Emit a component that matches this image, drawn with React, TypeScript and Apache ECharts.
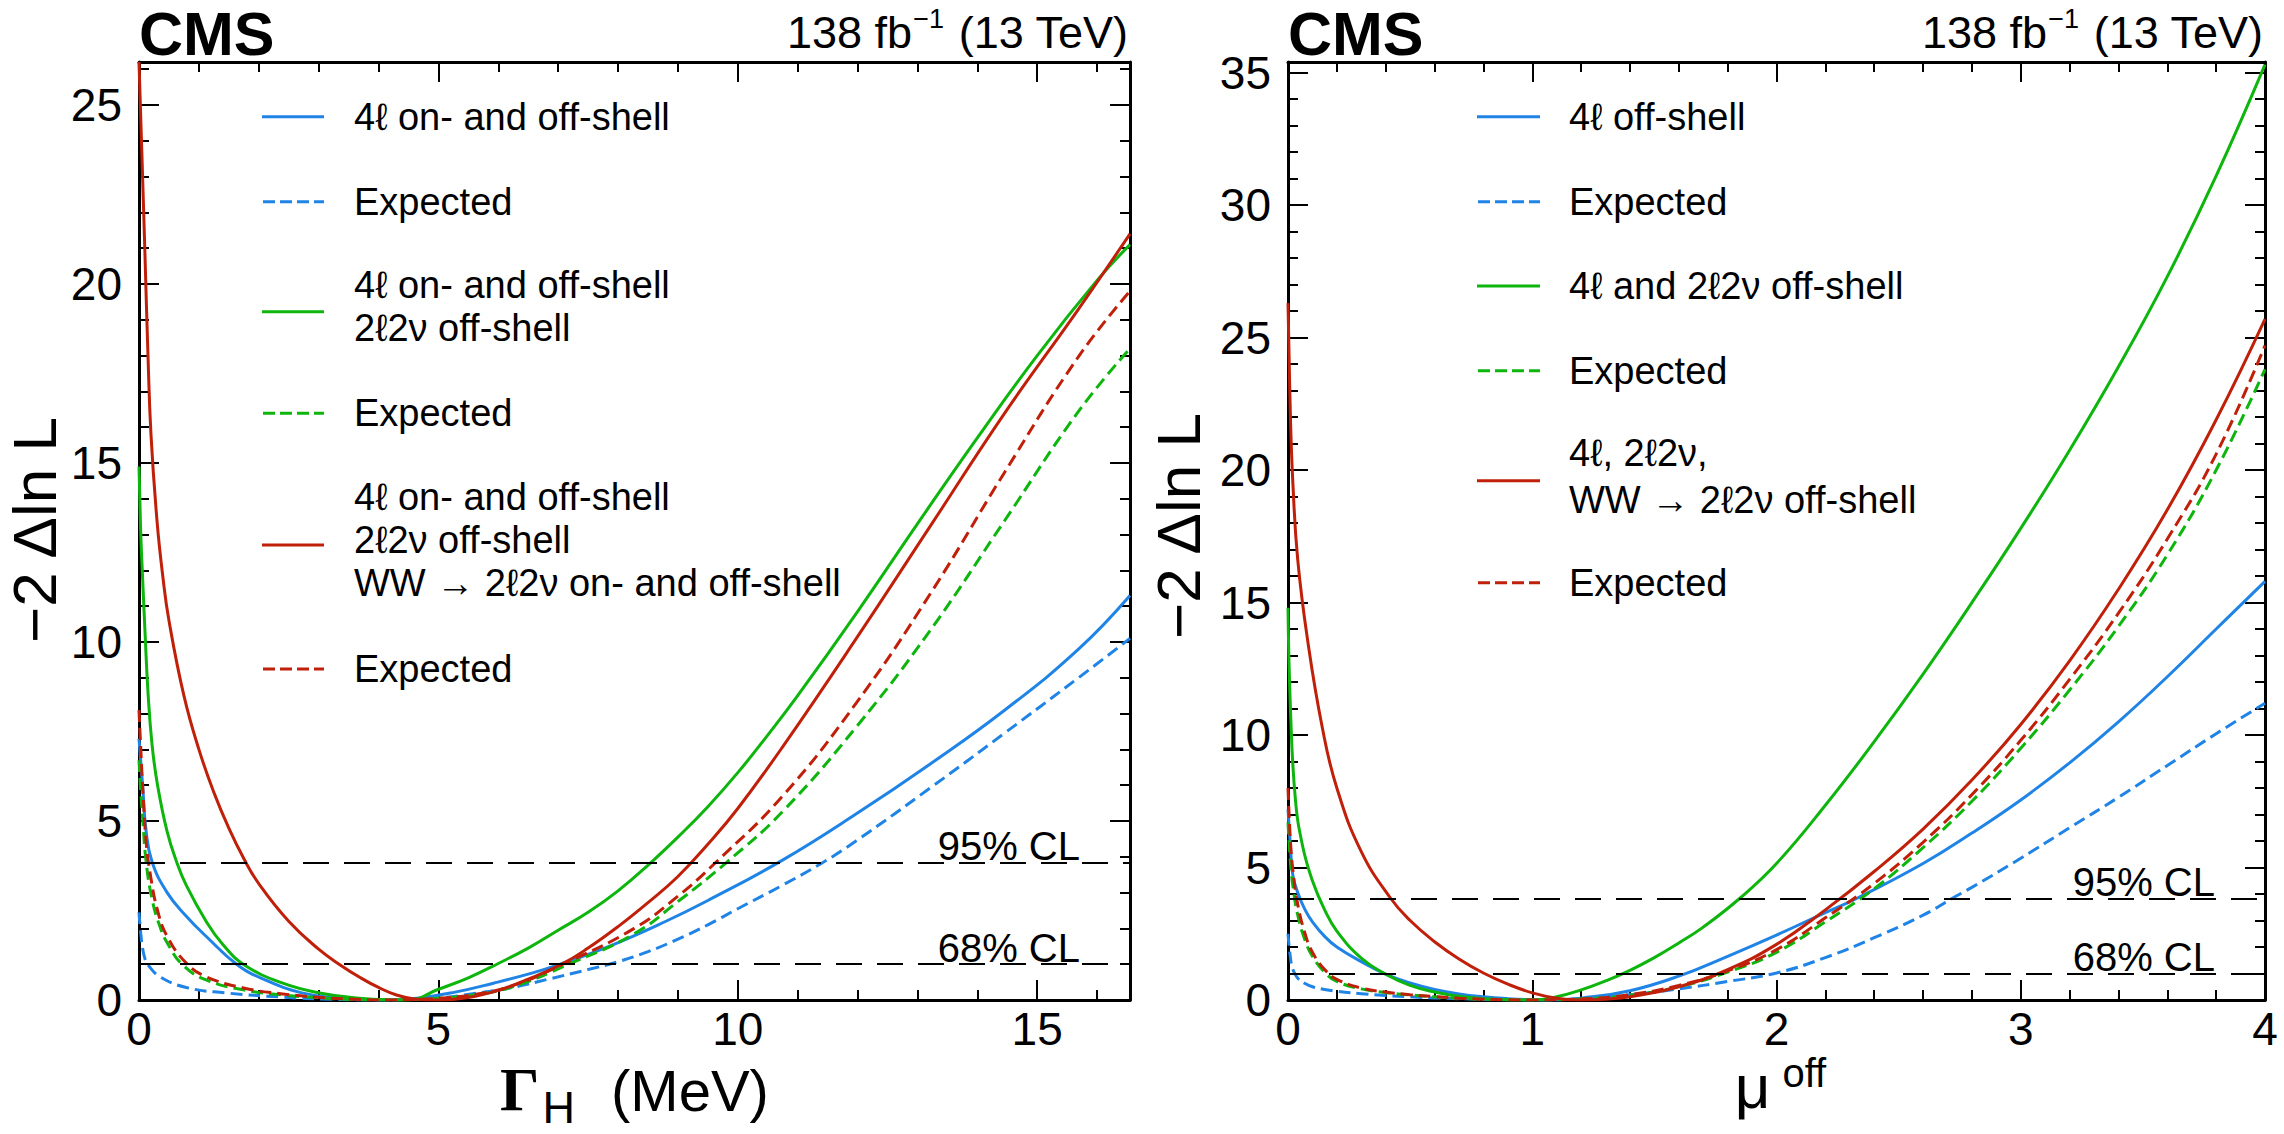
import { useEffect, useRef } from 'react';
import * as echarts from 'echarts';

const W = 2284;
const H = 1134;

const SANS = '"Liberation Sans", Arial, Helvetica, sans-serif';
const SERIF = '"Liberation Serif", "Times New Roman", serif';

const BLUE = '#1f84e6';
const GREEN = '#0db50d';
const RED = '#c0200a';

// ---------- axes ----------
const GAMMA_MIN = 0;
const GAMMA_MAX = 16.55;
const GAMMA_MAJOR = 5;
const GAMMA_MINOR = 1;
const MU_MIN = 0;
const MU_MAX = 4;
const MU_MAJOR = 1;
const MU_MINOR = 0.2;
const NLL_MIN = 0;
const NLL_LEFT_MAX = 26.2;
const NLL_RIGHT_MAX = 35.4;
const NLL_MAJOR = 5;
const NLL_MINOR = 1;

const CL_VALUES = [3.84, 1.0];
const CL_LABELS = ['95% CL', '68% CL'];

// ---------- texts ----------
const TITLE_CMS = 'CMS';
const LUMI_MAIN = '138 fb';
const LUMI_SUP = '−1';
const LUMI_TAIL = '(13 TeV)';
const Y_TITLE = '−2 Δln L';
const X_TITLE_LEFT = ['Γ', 'H', '(MeV)'];
const X_TITLE_RIGHT = ['μ', 'off'];

const LEFT_LEGEND_LABELS = [
  ['4ℓ on- and off-shell'],
  ['Expected'],
  ['4ℓ on- and off-shell', '2ℓ2ν off-shell'],
  ['Expected'],
  ['4ℓ on- and off-shell', '2ℓ2ν off-shell', 'WW → 2ℓ2ν on- and off-shell'],
  ['Expected'],
];
const RIGHT_LEGEND_LABELS = [
  ['4ℓ off-shell'],
  ['Expected'],
  ['4ℓ and 2ℓ2ν off-shell'],
  ['Expected'],
  ['4ℓ, 2ℓ2ν,', 'WW → 2ℓ2ν off-shell'],
  ['Expected'],
];

// ---------- data: left panel, x = Gamma_H (MeV), y = -2 Delta lnL ----------
const GAMMA_4L_OBS = [[0,7.3],[0.06,6.0],[0.12,4.7],[0.22,3.85],[0.47,3.0],[0.79,2.34],[1.12,1.78],[1.63,1.0],[2.08,0.58],[2.72,0.2],[3.36,0.05],[4.0,0.0],[4.64,0.05],[5.28,0.22],[5.92,0.47],[6.56,0.75],[7.0,0.98],[7.85,1.5],[8.8,2.2],[9.5,2.78],[10.74,3.9],[11.98,5.2],[13.22,6.6],[14.46,8.1],[15.69,9.8],[16.55,11.3]];
const GAMMA_4L_EXP = [[0,2.45],[0.03,1.85],[0.06,1.45],[0.1,1.15],[0.15,0.98],[0.35,0.65],[0.79,0.35],[1.44,0.2],[2.4,0.08],[3.2,0.02],[4.1,0.0],[5.0,0.06],[5.6,0.18],[6.24,0.35],[6.88,0.6],[7.5,0.85],[8.0,1.07],[8.5,1.35],[9.0,1.7],[9.5,2.1],[10.0,2.55],[10.74,3.2],[11.42,3.84],[11.98,4.45],[13.22,5.93],[14.46,7.46],[15.69,9.0],[16.55,10.1]];
const GAMMA_4L2L2V_OBS = [[0,14.9],[0.03,13.0],[0.06,11.8],[0.1,10.3],[0.15,8.6],[0.22,7.1],[0.31,6.0],[0.47,4.7],[0.63,3.85],[0.79,3.2],[1.12,2.2],[1.4,1.55],[1.76,0.98],[2.4,0.47],[3.04,0.19],[3.68,0.05],[4.2,0.005],[4.5,0.0],[5.0,0.3],[5.5,0.62],[6.0,1.02],[6.5,1.45],[7.0,1.95],[7.5,2.45],[8.0,3.05],[8.55,3.84],[9.0,4.55],[9.5,5.4],[10.0,6.35],[10.5,7.4],[11.0,8.5],[12.0,10.85],[13.0,13.3],[14.0,15.7],[15.0,18.0],[16.0,20.1],[16.55,21.1]];
const GAMMA_4L2L2V_EXP = [[0,6.7],[0.03,5.8],[0.06,5.1],[0.12,3.85],[0.22,2.8],[0.35,2.05],[0.47,1.6],[0.73,0.98],[1.12,0.56],[1.76,0.28],[2.4,0.14],[3.04,0.06],[3.6,0.015],[4.1,0.0],[4.6,0.015],[5.0,0.05],[5.6,0.14],[6.24,0.37],[7.15,0.98],[8.27,1.85],[9.0,2.75],[9.81,3.84],[10.74,5.25],[11.98,7.63],[13.22,10.34],[14.46,13.4],[15.69,16.44],[16.55,18.2]];
const GAMMA_ALL_OBS = [[0,26.2],[0.03,24.6],[0.06,23.0],[0.1,20.8],[0.15,18.0],[0.2,15.8],[0.3,13.4],[0.4,11.8],[0.5,10.6],[0.75,8.5],[1.0,7.0],[1.25,5.8],[1.5,4.8],[1.75,3.95],[2.0,3.25],[2.5,2.2],[3.0,1.42],[3.36,0.98],[3.7,0.62],[4.0,0.35],[4.3,0.14],[4.6,0.03],[5.0,0.0],[5.5,0.07],[6.0,0.27],[6.5,0.58],[7.06,1.0],[7.5,1.45],[8.0,2.05],[8.5,2.72],[9.0,3.45],[9.5,4.35],[10.0,5.35],[10.74,7.05],[11.98,10.1],[13.22,13.25],[14.46,16.4],[15.69,19.3],[16.55,21.4]];
const GAMMA_ALL_EXP = [[0,8.1],[0.03,7.0],[0.06,6.0],[0.12,4.4],[0.19,3.5],[0.31,2.5],[0.47,1.78],[0.79,1.03],[1.12,0.65],[1.76,0.33],[2.4,0.17],[3.04,0.07],[3.6,0.02],[4.1,0.0],[4.6,0.015],[5.0,0.05],[5.6,0.15],[6.24,0.4],[7.08,1.0],[8.27,2.0],[9.0,2.9],[9.63,3.84],[10.74,5.68],[11.98,8.3],[13.22,11.36],[14.46,14.75],[15.69,17.97],[16.55,19.8]];

// ---------- data: right panel, x = mu_off, y = -2 Delta lnL ----------
const MU_4L_OBS = [[0,7.2],[0.01,5.8],[0.02,4.7],[0.04,4.05],[0.07,3.4],[0.1,2.95],[0.15,2.4],[0.2,2.0],[0.3,1.45],[0.4,0.98],[0.5,0.64],[0.6,0.4],[0.7,0.23],[0.8,0.12],[0.9,0.05],[1.0,0.01],[1.05,0.0],[1.1,0.01],[1.2,0.07],[1.4,0.35],[1.6,0.9],[1.8,1.65],[2.0,2.45],[2.2,3.3],[2.33,3.84],[2.6,5.15],[2.8,6.3],[3.0,7.55],[3.2,8.95],[3.4,10.5],[3.6,12.2],[3.8,14.0],[4.0,15.8]];
const MU_4L_EXP = [[0,2.5],[0.01,1.6],[0.02,1.15],[0.04,0.82],[0.07,0.62],[0.1,0.5],[0.15,0.4],[0.2,0.33],[0.3,0.24],[0.4,0.17],[0.5,0.12],[0.6,0.08],[0.7,0.05],[0.8,0.02],[0.9,0.005],[1.0,0.0],[1.2,0.05],[1.4,0.2],[1.6,0.42],[1.8,0.7],[2.0,1.02],[2.2,1.6],[2.4,2.35],[2.6,3.2],[2.72,3.84],[2.8,4.25],[3.0,5.35],[3.2,6.5],[3.4,7.65],[3.6,8.85],[3.8,10.05],[4.0,11.2]];
const MU_4L2L2V_OBS = [[0,14.8],[0.01,11.0],[0.03,7.6],[0.06,5.8],[0.1,4.5],[0.15,3.4],[0.2,2.6],[0.3,1.58],[0.4,0.97],[0.5,0.55],[0.6,0.3],[0.7,0.14],[0.8,0.05],[0.9,0.01],[1.0,0.0],[1.1,0.12],[1.2,0.38],[1.3,0.72],[1.4,1.12],[1.5,1.6],[1.6,2.15],[1.7,2.75],[1.85,3.84],[2.0,5.15],[2.2,7.35],[2.4,9.75],[2.6,12.3],[2.8,15.0],[3.0,17.8],[3.2,20.75],[3.4,23.9],[3.6,27.3],[3.8,31.1],[4.0,35.3]];
const MU_4L2L2V_EXP = [[0,6.7],[0.01,5.2],[0.02,4.3],[0.04,3.2],[0.07,2.25],[0.1,1.65],[0.15,1.05],[0.2,0.7],[0.3,0.42],[0.4,0.28],[0.5,0.19],[0.6,0.12],[0.7,0.065],[0.8,0.028],[0.9,0.007],[1.0,0.0],[1.2,0.04],[1.4,0.18],[1.6,0.5],[1.8,1.05],[2.0,1.8],[2.2,2.95],[2.4,4.2],[2.6,5.75],[2.8,7.5],[3.0,9.5],[3.2,11.7],[3.4,14.1],[3.6,16.8],[3.8,20.0],[4.0,23.8]];
const MU_ALL_OBS = [[0,26.3],[0.01,22.0],[0.02,19.5],[0.04,16.6],[0.08,13.6],[0.14,10.3],[0.2,8.0],[0.3,5.6],[0.42,3.84],[0.5,3.0],[0.6,2.2],[0.7,1.55],[0.8,1.02],[0.9,0.6],[1.0,0.27],[1.1,0.07],[1.2,0.0],[1.3,0.03],[1.4,0.12],[1.6,0.5],[1.8,1.15],[2.0,2.1],[2.2,3.4],[2.4,4.85],[2.6,6.45],[2.8,8.3],[3.0,10.4],[3.2,12.8],[3.4,15.5],[3.6,18.5],[3.8,21.9],[4.0,25.7]];
const MU_ALL_EXP = [[0,8.0],[0.01,6.0],[0.02,4.9],[0.04,3.6],[0.07,2.5],[0.1,1.8],[0.15,1.15],[0.2,0.78],[0.3,0.45],[0.4,0.3],[0.5,0.2],[0.6,0.13],[0.7,0.07],[0.8,0.03],[0.9,0.008],[1.0,0.0],[1.2,0.04],[1.4,0.2],[1.6,0.55],[1.8,1.1],[2.0,1.9],[2.2,3.1],[2.4,4.4],[2.6,5.95],[2.8,7.75],[3.0,9.8],[3.2,12.1],[3.4,14.6],[3.6,17.4],[3.8,20.6],[4.0,24.7]];

const LEFT_SERIES = [GAMMA_4L_OBS, GAMMA_4L_EXP, GAMMA_4L2L2V_OBS, GAMMA_4L2L2V_EXP, GAMMA_ALL_OBS, GAMMA_ALL_EXP];
const RIGHT_SERIES = [MU_4L_OBS, MU_4L_EXP, MU_4L2L2V_OBS, MU_4L2L2V_EXP, MU_ALL_OBS, MU_ALL_EXP];
const SERIES_COLORS = [BLUE, BLUE, GREEN, GREEN, RED, RED];
const SERIES_DASHED = [false, true, false, true, false, true];

// ---------- layout ----------
const GRIDS = [
  { left: 139, top: 62, width: 991, height: 938 },
  { left: 1288, top: 62, width: 977, height: 938 },
];
const LEGEND_LAYOUT = [
  {
    lineX: [262, 324], textX: 354,
    rows: [116.7, 201.7, 311.7, 413.3, 545, 669],
    textRows: [[116.7], [201.7], [285, 328], [413.3], [497, 540, 583], [669]],
  },
  {
    lineX: [1477, 1540], textX: 1569,
    rows: [116.7, 201.7, 286, 370.7, 480.7, 582.7],
    textRows: [[116.7], [201.7], [286], [370.7], [453, 500], [582.7]],
  },
];
const FS = { tick: 46, legend: 38, cl: 40, cms: 61, lumi: 45, lumiSup: 27, yTitle: 62, xTitle: 58, gamma: 62, sub: 45, mu: 62, off: 40 };
const CURVE_DASH = [12, 6];
const LEGEND_DASH = [12, 5];
const CL_DASH = [26, 15];

function fmt(step: number) {
  return (v: number) => {
    const r = Math.round(v / step);
    return Math.abs(v - r * step) < 1e-6 ? String(Math.round(v * 1000) / 1000) : '';
  };
}

function axisSet(kind: 'x' | 'y', gridIndex: number, min: number, max: number, major: number, minor: number) {
  const [p1, p2] = kind === 'x' ? ['bottom', 'top'] : ['left', 'right'];
  const base: any = {
    type: 'value', gridIndex, min, max,
    splitLine: { show: false },
    minorTick: { show: false },
    minorSplitLine: { show: false },
    axisPointer: { show: false },
  };
  const line = { show: true, onZero: false, lineStyle: { color: '#000', width: 3 } };
  const noLine = { show: false, onZero: false };
  const majorTick = { show: true, inside: true, length: 20, lineStyle: { color: '#000', width: 2 } };
  const minorTick = { show: true, inside: true, length: 10, lineStyle: { color: '#000', width: 2 } };
  const label = {
    show: true, margin: kind === 'x' ? 6 : 17, fontSize: FS.tick, fontFamily: SANS, color: '#000',
    formatter: fmt(major),
  };
  return [
    { ...base, position: p1, interval: major, axisLine: line, axisTick: majorTick, axisLabel: label },
    { ...base, position: p1, interval: minor, axisLine: noLine, axisTick: minorTick, axisLabel: { show: false } },
    { ...base, position: p2, interval: major, axisLine: line, axisTick: majorTick, axisLabel: { show: false } },
    { ...base, position: p2, interval: minor, axisLine: noLine, axisTick: minorTick, axisLabel: { show: false } },
  ];
}

function lineSeries(data: number[][], idx: number, axisIndex: number, withCL: boolean) {
  const s: any = {
    type: 'line',
    xAxisIndex: axisIndex,
    yAxisIndex: axisIndex,
    data,
    showSymbol: false,
    symbol: 'none',
    smooth: 0.45,
    clip: true,
    silent: true,
    z: 3,
    lineStyle: { color: SERIES_COLORS[idx], width: 3, type: SERIES_DASHED[idx] ? CURVE_DASH : 'solid' },
    emphasis: { disabled: true },
  };
  if (withCL) {
    s.markLine = {
      silent: true,
      symbol: ['none', 'none'],
      label: { show: false },
      lineStyle: { color: '#000', width: 2, type: CL_DASH },
      emphasis: { disabled: true },
      data: CL_VALUES.map((v) => ({ yAxis: v })),
    };
  }
  return s;
}

function buildOption() {
  const xAxis = [
    ...axisSet('x', 0, GAMMA_MIN, GAMMA_MAX, GAMMA_MAJOR, GAMMA_MINOR),
    ...axisSet('x', 1, MU_MIN, MU_MAX, MU_MAJOR, MU_MINOR),
  ];
  const yAxis = [
    ...axisSet('y', 0, NLL_MIN, NLL_LEFT_MAX, NLL_MAJOR, NLL_MINOR),
    ...axisSet('y', 1, NLL_MIN, NLL_RIGHT_MAX, NLL_MAJOR, NLL_MINOR),
  ];
  const series = [
    ...LEFT_SERIES.map((d, i) => lineSeries(d, i, 0, i === 0)),
    ...RIGHT_SERIES.map((d, i) => lineSeries(d, i, 4, i === 0)),
  ];
  return {
    animation: false,
    backgroundColor: '#fff',
    textStyle: { fontFamily: SANS },
    grid: GRIDS.map((g) => ({ ...g, containLabel: false })),
    xAxis,
    yAxis,
    series,
  };
}

export default function App() {
  const ref = useRef<HTMLDivElement>(null);

  useEffect(() => {
    const el = ref.current;
    if (!el) return;
    const chart = echarts.init(el, null, { renderer: 'svg', width: W, height: H });
    chart.setOption(buildOption());

    const canvas = document.createElement('canvas');
    const ctx = canvas.getContext('2d') as CanvasRenderingContext2D;
    const measure = (t: string, size: number, family = SANS, weight = 'normal') => {
      ctx.font = `${weight} ${size}px ${family}`;
      return ctx.measureText(t).width;
    };
    const txt = (x: number, baseline: number, text: string, size: number, o: any = {}) => ({
      type: 'text',
      x,
      y: o.mid !== undefined ? o.mid : baseline - 0.35 * size,
      rotation: o.rotation || 0,
      silent: true,
      z: 10,
      style: {
        text,
        fontSize: size,
        fontFamily: o.family || SANS,
        fontWeight: o.weight || 'normal',
        lineHeight: Math.round(size * (o.lh || 0.95)),
        fill: '#000',
        align: o.align || 'left',
        textAlign: o.align || 'left',
        verticalAlign: 'middle',
        textVerticalAlign: 'middle',
      },
    });

    const g: any[] = [];
    GRIDS.forEach((grid, p) => {
      const right = grid.left + grid.width;
      g.push(txt(grid.left, 0, TITLE_CMS, FS.cms, { mid: 33.5, weight: 'bold', lh: 0.8 }));
      const R = right - 2;
      const wTail = measure(LUMI_TAIL, FS.lumi);
      const wSup = measure(LUMI_SUP, FS.lumiSup);
      g.push(txt(R, 0, LUMI_TAIL, FS.lumi, { mid: 32, align: 'right' }));
      const supRight = R - wTail - 14;
      g.push(txt(supRight, 0, LUMI_SUP, FS.lumiSup, { mid: 19, align: 'right' }));
      g.push(txt(supRight - wSup - 1, 0, LUMI_MAIN, FS.lumi, { mid: 32, align: 'right' }));
      g.push(txt(p === 0 ? 34 : 1178, 0, Y_TITLE, FS.yTitle, { mid: p === 0 ? 530 : 526, align: 'center', rotation: Math.PI / 2 }));

      CL_VALUES.forEach((v, i) => {
        const py = chart.convertToPixel({ xAxisIndex: p * 4, yAxisIndex: p * 4 } as any, [0, v]) as number[];
        g.push(txt(right - 50, py[1] - 2.5, CL_LABELS[i], FS.cl, { align: 'right' }));
      });

      const lay = LEGEND_LAYOUT[p];
      const labels = p === 0 ? LEFT_LEGEND_LABELS : RIGHT_LEGEND_LABELS;
      labels.forEach((lines, i) => {
        const y = lay.rows[i];
        const dashed = SERIES_DASHED[i];
        g.push({
          type: 'line',
          silent: true,
          z: 10,
          shape: { x1: lay.lineX[0] + (dashed ? 1 : 0), y1: y, x2: lay.lineX[1], y2: y },
          style: { stroke: SERIES_COLORS[i], lineWidth: 3, lineDash: dashed ? LEGEND_DASH : null },
        });
        lines.forEach((line, j) => {
          g.push(txt(lay.textX, 0, line, FS.legend, { mid: lay.textRows[i][j] }));
        });
      });
    });

    {
      const grid = GRIDS[0];
      const cx = grid.left + grid.width / 2;
      const wG = measure(X_TITLE_LEFT[0], FS.gamma, SERIF, 'bold');
      const wH = measure(X_TITLE_LEFT[1], FS.sub);
      const wM = measure(X_TITLE_LEFT[2], FS.xTitle);
      const gap1 = 3;
      const gap2 = 36;
      const total = wG + gap1 + wH + gap2 + wM;
      let x = cx - total / 2;
      g.push(txt(x, 1111, X_TITLE_LEFT[0], FS.gamma, { family: SERIF, weight: 'bold' }));
      x += wG + gap1;
      g.push(txt(x, 1123, X_TITLE_LEFT[1], FS.sub));
      x += wH + gap2;
      g.push(txt(x, 1111, X_TITLE_LEFT[2], FS.xTitle));
    }
    {
      const grid = GRIDS[1];
      const cx = grid.left + grid.width / 2 + 4;
      const wMu = measure(X_TITLE_RIGHT[0], FS.mu);
      const wOff = measure(X_TITLE_RIGHT[1], FS.off);
      const gap = 12;
      let x = cx - (wMu + gap + wOff) / 2;
      g.push(txt(x, 1108, X_TITLE_RIGHT[0], FS.mu, { lh: 0.75 }));
      x += wMu + gap;
      g.push(txt(x, 1087, X_TITLE_RIGHT[1], FS.off, { lh: 0.7 }));
    }

    chart.setOption({ graphic: { elements: g } });
    return () => chart.dispose();
  }, []);

  return (
    <div
      ref={ref}
      style={{ position: 'fixed', left: 0, top: 0, width: W, height: H, background: '#fff' }}
    />
  );
}
